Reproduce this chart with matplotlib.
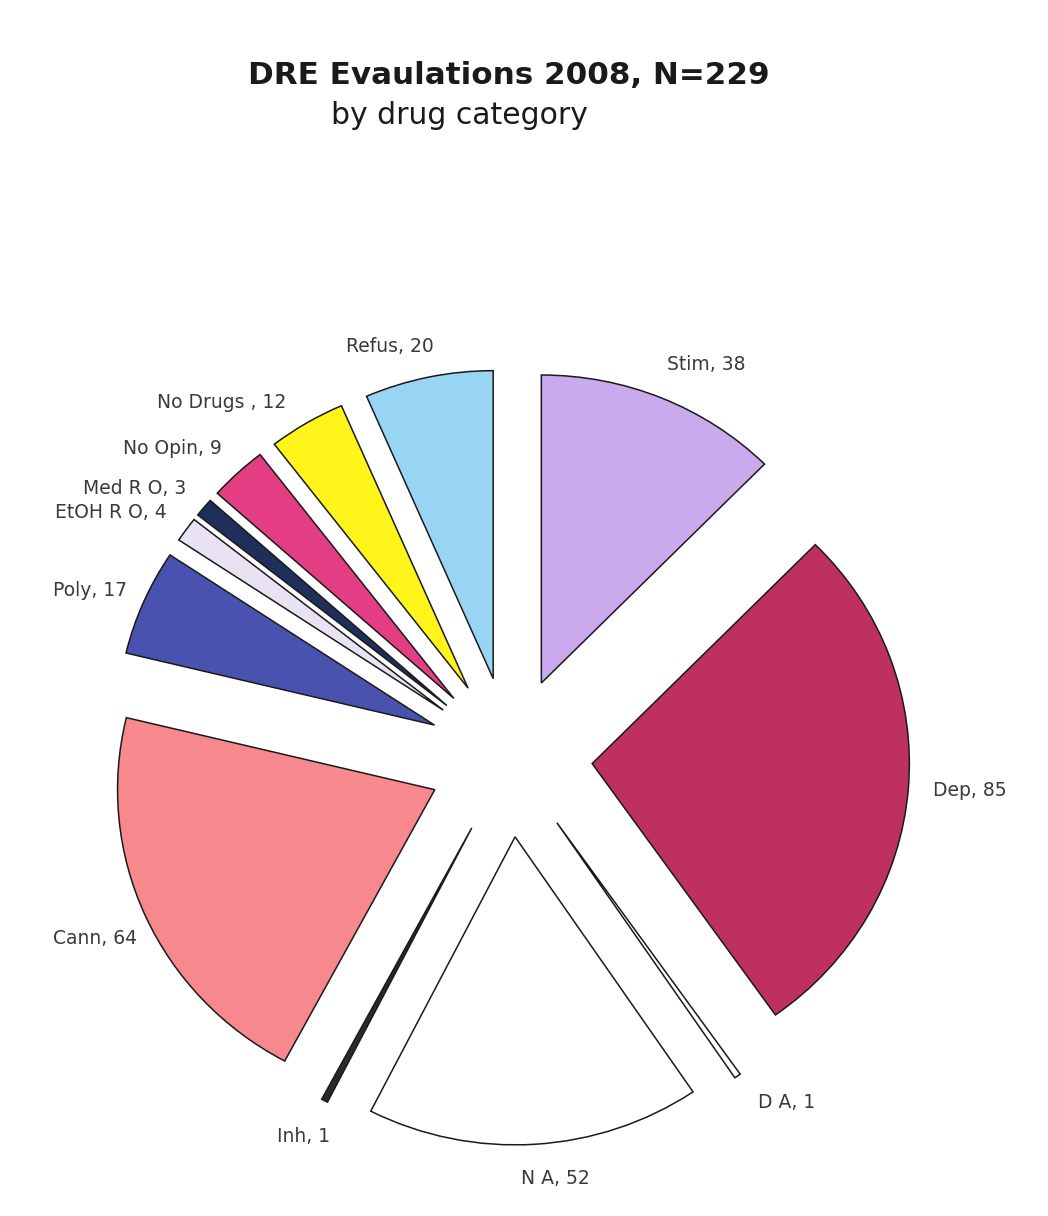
import matplotlib.pyplot as plt

# data
categories = ['Stim', 'Dep', 'D A', 'N A', 'Inh', 'Cann', 'Poly',
              'EtOH R O', 'Med R O', 'No Opin', 'No Drugs ', 'Refus']
counts = [38, 85, 1, 52, 1, 64, 17, 4, 3, 9, 12, 20]
colors = ['#C9AAEC', '#BE3062', '#FFFFFF', '#FFFFFF', '#2A2A2A', '#F7888E',
          '#4A52B0', '#E8E2F2', '#1F2F5C', '#E33E84', '#FFF51A', '#98D5F5']

# label centres, page pixels (x from left, y from top)
label_pos = [(706, 365), (970, 790), (787, 1103), (555, 1178), (304, 1137),
             (95, 938), (90, 590), (111, 512), (135, 489), (172, 448),
             (222, 402), (390, 347)]

W, H = 1048, 1216
sx = 1.03   # the scan is a bit wider than tall

fig = plt.figure(figsize=(W / 100, H / 100), dpi=100)
ax = fig.add_axes([0, 0, 1, 1])

labels = [f'{c}, {n}' for c, n in zip(categories, counts)]
wedges, texts = ax.pie(counts, labels=labels, colors=colors,
                       startangle=90, counterclock=False,
                       radius=308, center=(510 / sx, H - 757),
                       explode=[80] * len(counts), frame=True,
                       wedgeprops=dict(edgecolor='#1a1a1a', linewidth=1.1),
                       textprops=dict(fontsize=13.5, family='DejaVu Sans',
                                      color='#3a3a3a'))

# 手动放置标签
for t, (x, y) in zip(texts, label_pos):
    t.set_position((x / sx, H - y))
    t.set_ha('center')
    t.set_va('center')

ax.set_aspect('auto')
ax.set_xlim(0, W / sx)
ax.set_ylim(0, H)
ax.axis('off')

fig.text(509 / W, 1 - 75 / H, 'DRE Evaulations 2008, N=229', fontsize=22.3,
         fontweight='bold', family='DejaVu Sans', color='#1a1a1a',
         ha='center', va='center')
fig.text(459 / W, 1 - 116 / H, 'by drug category', fontsize=21.5,
         family='DejaVu Sans', color='#1a1a1a', ha='center', va='center')

fig.savefig('out.png', dpi=100)
